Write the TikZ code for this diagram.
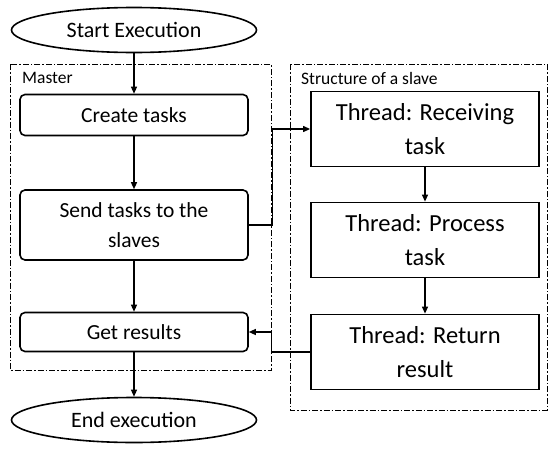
\documentclass[tikz,border=0pt]{standalone}
\usepackage{fontspec}
\setmainfont{Carlito}
\usetikzlibrary{shapes.geometric,arrows.meta}
\begin{document}
\begin{tikzpicture}[x=1pt,y=-1pt,
  terminal/.style={ellipse,draw,line width=1.6pt,minimum width=245pt,minimum height=45pt,inner sep=0pt,font=\fontsize{22}{26}\selectfont},
  mstep/.style={draw,line width=1.6pt,rounded corners=5pt,minimum width=228pt,align=center,inner sep=0pt,font=\fontsize{21.5}{30}\selectfont},
  sstep/.style={draw,line width=1.8pt,minimum width=228pt,minimum height=75pt,align=center,inner sep=0pt,font=\fontsize{24.5}{34}\selectfont},
  group/.style={draw,line width=0.8pt,dash pattern=on 6pt off 2pt on 1.5pt off 2pt},
  grouplabel/.style={anchor=north west,inner sep=0pt,font=\fontsize{17.5}{20}\selectfont},
  flow/.style={line width=1.2pt,-{Triangle[length=7pt,width=6pt]}}]
\useasboundingbox (0,0) rectangle (549,450);

% group frames
\draw[group] (10,64) rectangle (271,370);
\draw[group] (290,64) rectangle (547,410);
\node[grouplabel] (mlabel) at (22,72) {Master};
\node[grouplabel] (slabel) at (301,72) {Structure of a slave};

% master side
\node[terminal] (start) at (134,30) {Start Execution};
\node[mstep,minimum height=41pt] (create) at (134,115) {Create tasks};
\node[mstep,minimum height=70pt] (send) at (134,225) {Send tasks to the\\slaves};
\node[mstep,minimum height=39pt] (get) at (134,332) {Get results};
\node[terminal] (end) at (134,420) {End execution};

% slave side
\node[sstep] (recv) at (425,129) {Thread: Receiving\\task};
\node[sstep] (proc) at (425,240) {Thread: Process\\task};
\node[sstep] (ret) at (425,352) {Thread: Return\\result};

% connectors
\draw[flow] (start) -- (create);
\draw[flow] (create) -- (send);
\draw[flow] (send) -- (get);
\draw[flow] (get) -- (end);
\draw[flow] (recv) -- (proc);
\draw[flow] (proc) -- (ret);
\draw[flow] (send.east) -- ++(24,0) |- (recv.west);
\draw[flow] (ret.west) -- ++(-39,0) |- (get.east);
\end{tikzpicture}
\end{document}
